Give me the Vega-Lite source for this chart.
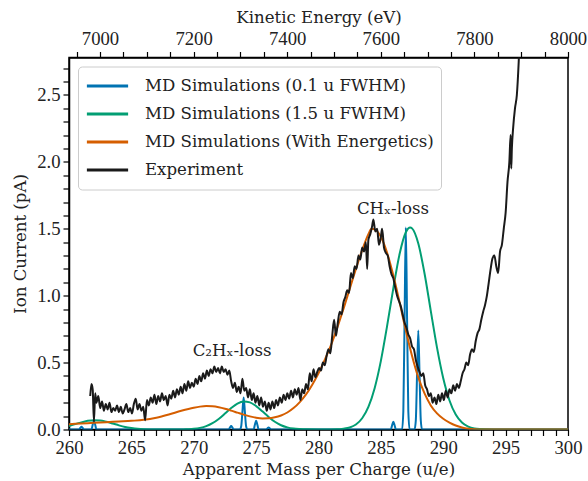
{
"$schema": "https://vega.github.io/schema/vega-lite/v6.json",
"width": 499, "height": 372,
"autosize": "none",
"padding": {"left": 69, "top": 57.5, "right": 20, "bottom": 51.5},
"config": {
  "font": "DejaVu Serif",
  "view": {"stroke": "#000", "strokeWidth": 1.5},
  "axis": {"grid": false, "domainColor": "#000", "domainWidth": 1.5, "tickColor": "#000", "tickWidth": 1.2, "tickSize": 6, "labelFont": "Liberation Serif, DejaVu Serif, serif", "labelFontSize": 18.7, "titleFont": "DejaVu Serif", "titleFontSize": 16.6, "labelColor": "#222", "titleColor": "#222", "titleFontWeight": "normal", "labelFlush": false, "labelOverlap": false, "labelPadding": 3},
  "legend": {"labelFont": "DejaVu Serif"},
  "text": {"font": "DejaVu Serif"}
},
"datasets": {
  "curves": [
    {"m":260,"v":0,"s":"MD Simulations (0.1 u FWHM)"},
    {"m":260.8,"v":0,"s":"MD Simulations (0.1 u FWHM)"},{"m":260.9,"v":0.011,"s":"MD Simulations (0.1 u FWHM)"},{"m":261,"v":0.02,"s":"MD Simulations (0.1 u FWHM)"},{"m":261.1,"v":0.011,"s":"MD Simulations (0.1 u FWHM)"},{"m":261.2,"v":0,"s":"MD Simulations (0.1 u FWHM)"},
    {"m":261.8,"v":0,"s":"MD Simulations (0.1 u FWHM)"},{"m":261.9,"v":0.036,"s":"MD Simulations (0.1 u FWHM)"},{"m":262,"v":0.065,"s":"MD Simulations (0.1 u FWHM)"},{"m":262.1,"v":0.036,"s":"MD Simulations (0.1 u FWHM)"},{"m":262.2,"v":0,"s":"MD Simulations (0.1 u FWHM)"},
    {"m":272.8,"v":0,"s":"MD Simulations (0.1 u FWHM)"},{"m":272.9,"v":0.014,"s":"MD Simulations (0.1 u FWHM)"},{"m":273,"v":0.026,"s":"MD Simulations (0.1 u FWHM)"},{"m":273.1,"v":0.014,"s":"MD Simulations (0.1 u FWHM)"},{"m":273.2,"v":0,"s":"MD Simulations (0.1 u FWHM)"},
    {"m":273.7,"v":0,"s":"MD Simulations (0.1 u FWHM)"},{"m":273.8,"v":0.022,"s":"MD Simulations (0.1 u FWHM)"},{"m":273.9,"v":0.13,"s":"MD Simulations (0.1 u FWHM)"},{"m":274,"v":0.24,"s":"MD Simulations (0.1 u FWHM)"},{"m":274.1,"v":0.13,"s":"MD Simulations (0.1 u FWHM)"},{"m":274.2,"v":0.022,"s":"MD Simulations (0.1 u FWHM)"},{"m":274.3,"v":0,"s":"MD Simulations (0.1 u FWHM)"},
    {"m":274.8,"v":0,"s":"MD Simulations (0.1 u FWHM)"},{"m":274.9,"v":0.036,"s":"MD Simulations (0.1 u FWHM)"},{"m":275,"v":0.066,"s":"MD Simulations (0.1 u FWHM)"},{"m":275.1,"v":0.036,"s":"MD Simulations (0.1 u FWHM)"},{"m":275.2,"v":0,"s":"MD Simulations (0.1 u FWHM)"},
    {"m":275.8,"v":0,"s":"MD Simulations (0.1 u FWHM)"},{"m":275.9,"v":0.008,"s":"MD Simulations (0.1 u FWHM)"},{"m":276,"v":0.015,"s":"MD Simulations (0.1 u FWHM)"},{"m":276.1,"v":0.008,"s":"MD Simulations (0.1 u FWHM)"},{"m":276.2,"v":0,"s":"MD Simulations (0.1 u FWHM)"},
    {"m":285.8,"v":0,"s":"MD Simulations (0.1 u FWHM)"},{"m":285.9,"v":0.032,"s":"MD Simulations (0.1 u FWHM)"},{"m":286,"v":0.058,"s":"MD Simulations (0.1 u FWHM)"},{"m":286.1,"v":0.032,"s":"MD Simulations (0.1 u FWHM)"},{"m":286.2,"v":0,"s":"MD Simulations (0.1 u FWHM)"},
    {"m":286.7,"v":0,"s":"MD Simulations (0.1 u FWHM)"},{"m":286.8,"v":0.136,"s":"MD Simulations (0.1 u FWHM)"},{"m":286.9,"v":0.83,"s":"MD Simulations (0.1 u FWHM)"},{"m":287,"v":1.51,"s":"MD Simulations (0.1 u FWHM)"},{"m":287.1,"v":0.83,"s":"MD Simulations (0.1 u FWHM)"},{"m":287.2,"v":0.136,"s":"MD Simulations (0.1 u FWHM)"},{"m":287.3,"v":0,"s":"MD Simulations (0.1 u FWHM)"},
    {"m":287.7,"v":0,"s":"MD Simulations (0.1 u FWHM)"},{"m":287.8,"v":0.067,"s":"MD Simulations (0.1 u FWHM)"},{"m":287.9,"v":0.41,"s":"MD Simulations (0.1 u FWHM)"},{"m":288,"v":0.74,"s":"MD Simulations (0.1 u FWHM)"},{"m":288.1,"v":0.41,"s":"MD Simulations (0.1 u FWHM)"},{"m":288.2,"v":0.067,"s":"MD Simulations (0.1 u FWHM)"},{"m":288.3,"v":0,"s":"MD Simulations (0.1 u FWHM)"},
    {"m":300,"v":0,"s":"MD Simulations (0.1 u FWHM)"},

    {"m":260,"v":0.026,"s":"MD Simulations (1.5 u FWHM)"},{"m":260.5,"v":0.04,"s":"MD Simulations (1.5 u FWHM)"},{"m":261,"v":0.053,"s":"MD Simulations (1.5 u FWHM)"},{"m":261.5,"v":0.065,"s":"MD Simulations (1.5 u FWHM)"},{"m":262,"v":0.07,"s":"MD Simulations (1.5 u FWHM)"},{"m":262.5,"v":0.068,"s":"MD Simulations (1.5 u FWHM)"},{"m":263,"v":0.058,"s":"MD Simulations (1.5 u FWHM)"},{"m":263.5,"v":0.045,"s":"MD Simulations (1.5 u FWHM)"},{"m":264,"v":0.031,"s":"MD Simulations (1.5 u FWHM)"},{"m":264.5,"v":0.019,"s":"MD Simulations (1.5 u FWHM)"},{"m":265,"v":0.011,"s":"MD Simulations (1.5 u FWHM)"},{"m":265.5,"v":0.005,"s":"MD Simulations (1.5 u FWHM)"},{"m":266,"v":0.002,"s":"MD Simulations (1.5 u FWHM)"},{"m":267,"v":0,"s":"MD Simulations (1.5 u FWHM)"},{"m":269,"v":0,"s":"MD Simulations (1.5 u FWHM)"},
    {"m":269.5,"v":0.002,"s":"MD Simulations (1.5 u FWHM)"},{"m":270,"v":0.005,"s":"MD Simulations (1.5 u FWHM)"},{"m":270.5,"v":0.012,"s":"MD Simulations (1.5 u FWHM)"},{"m":271,"v":0.025,"s":"MD Simulations (1.5 u FWHM)"},{"m":271.5,"v":0.047,"s":"MD Simulations (1.5 u FWHM)"},{"m":272,"v":0.079,"s":"MD Simulations (1.5 u FWHM)"},{"m":272.5,"v":0.119,"s":"MD Simulations (1.5 u FWHM)"},{"m":273,"v":0.16,"s":"MD Simulations (1.5 u FWHM)"},{"m":273.5,"v":0.194,"s":"MD Simulations (1.5 u FWHM)"},{"m":274,"v":0.21,"s":"MD Simulations (1.5 u FWHM)"},{"m":274.5,"v":0.203,"s":"MD Simulations (1.5 u FWHM)"},{"m":275,"v":0.175,"s":"MD Simulations (1.5 u FWHM)"},{"m":275.5,"v":0.136,"s":"MD Simulations (1.5 u FWHM)"},{"m":276,"v":0.094,"s":"MD Simulations (1.5 u FWHM)"},{"m":276.5,"v":0.058,"s":"MD Simulations (1.5 u FWHM)"},{"m":277,"v":0.032,"s":"MD Simulations (1.5 u FWHM)"},{"m":277.5,"v":0.016,"s":"MD Simulations (1.5 u FWHM)"},{"m":278,"v":0.007,"s":"MD Simulations (1.5 u FWHM)"},{"m":278.5,"v":0.003,"s":"MD Simulations (1.5 u FWHM)"},{"m":279,"v":0.001,"s":"MD Simulations (1.5 u FWHM)"},{"m":280,"v":0,"s":"MD Simulations (1.5 u FWHM)"},{"m":281,"v":0,"s":"MD Simulations (1.5 u FWHM)"},
    {"m":281.5,"v":0.001,"s":"MD Simulations (1.5 u FWHM)"},{"m":282,"v":0.006,"s":"MD Simulations (1.5 u FWHM)"},{"m":282.5,"v":0.015,"s":"MD Simulations (1.5 u FWHM)"},{"m":283,"v":0.037,"s":"MD Simulations (1.5 u FWHM)"},{"m":283.5,"v":0.084,"s":"MD Simulations (1.5 u FWHM)"},{"m":284,"v":0.169,"s":"MD Simulations (1.5 u FWHM)"},{"m":284.5,"v":0.309,"s":"MD Simulations (1.5 u FWHM)"},{"m":285,"v":0.513,"s":"MD Simulations (1.5 u FWHM)"},{"m":285.5,"v":0.774,"s":"MD Simulations (1.5 u FWHM)"},{"m":286,"v":1.057,"s":"MD Simulations (1.5 u FWHM)"},{"m":286.5,"v":1.311,"s":"MD Simulations (1.5 u FWHM)"},{"m":287,"v":1.474,"s":"MD Simulations (1.5 u FWHM)"},{"m":287.35,"v":1.51,"s":"MD Simulations (1.5 u FWHM)"},{"m":287.5,"v":1.503,"s":"MD Simulations (1.5 u FWHM)"},{"m":288,"v":1.39,"s":"MD Simulations (1.5 u FWHM)"},{"m":288.5,"v":1.166,"s":"MD Simulations (1.5 u FWHM)"},{"m":289,"v":0.887,"s":"MD Simulations (1.5 u FWHM)"},{"m":289.5,"v":0.612,"s":"MD Simulations (1.5 u FWHM)"},{"m":290,"v":0.383,"s":"MD Simulations (1.5 u FWHM)"},{"m":290.5,"v":0.217,"s":"MD Simulations (1.5 u FWHM)"},{"m":291,"v":0.112,"s":"MD Simulations (1.5 u FWHM)"},{"m":291.5,"v":0.052,"s":"MD Simulations (1.5 u FWHM)"},{"m":292,"v":0.022,"s":"MD Simulations (1.5 u FWHM)"},{"m":292.5,"v":0.008,"s":"MD Simulations (1.5 u FWHM)"},{"m":293,"v":0.003,"s":"MD Simulations (1.5 u FWHM)"},{"m":293.5,"v":0.001,"s":"MD Simulations (1.5 u FWHM)"},{"m":294,"v":0,"s":"MD Simulations (1.5 u FWHM)"},{"m":300,"v":0,"s":"MD Simulations (1.5 u FWHM)"},

    {"m":260,"v":0.04,"s":"MD Simulations (With Energetics)"},{"m":261,"v":0.045,"s":"MD Simulations (With Energetics)"},{"m":262,"v":0.05,"s":"MD Simulations (With Energetics)"},{"m":263,"v":0.055,"s":"MD Simulations (With Energetics)"},{"m":264,"v":0.06,"s":"MD Simulations (With Energetics)"},{"m":265,"v":0.065,"s":"MD Simulations (With Energetics)"},{"m":266,"v":0.072,"s":"MD Simulations (With Energetics)"},{"m":267,"v":0.088,"s":"MD Simulations (With Energetics)"},{"m":268,"v":0.112,"s":"MD Simulations (With Energetics)"},{"m":269,"v":0.14,"s":"MD Simulations (With Energetics)"},{"m":270,"v":0.163,"s":"MD Simulations (With Energetics)"},{"m":270.5,"v":0.171,"s":"MD Simulations (With Energetics)"},{"m":271,"v":0.175,"s":"MD Simulations (With Energetics)"},{"m":271.5,"v":0.173,"s":"MD Simulations (With Energetics)"},{"m":272,"v":0.166,"s":"MD Simulations (With Energetics)"},{"m":272.5,"v":0.155,"s":"MD Simulations (With Energetics)"},{"m":273,"v":0.141,"s":"MD Simulations (With Energetics)"},{"m":273.5,"v":0.126,"s":"MD Simulations (With Energetics)"},{"m":274,"v":0.111,"s":"MD Simulations (With Energetics)"},{"m":274.5,"v":0.098,"s":"MD Simulations (With Energetics)"},{"m":275,"v":0.088,"s":"MD Simulations (With Energetics)"},{"m":275.5,"v":0.083,"s":"MD Simulations (With Energetics)"},{"m":276,"v":0.084,"s":"MD Simulations (With Energetics)"},{"m":276.5,"v":0.091,"s":"MD Simulations (With Energetics)"},{"m":277,"v":0.105,"s":"MD Simulations (With Energetics)"},{"m":277.5,"v":0.127,"s":"MD Simulations (With Energetics)"},{"m":278,"v":0.16,"s":"MD Simulations (With Energetics)"},{"m":278.5,"v":0.205,"s":"MD Simulations (With Energetics)"},{"m":279,"v":0.262,"s":"MD Simulations (With Energetics)"},{"m":279.5,"v":0.335,"s":"MD Simulations (With Energetics)"},{"m":280,"v":0.42,"s":"MD Simulations (With Energetics)"},{"m":280.5,"v":0.52,"s":"MD Simulations (With Energetics)"},{"m":281,"v":0.63,"s":"MD Simulations (With Energetics)"},{"m":281.5,"v":0.76,"s":"MD Simulations (With Energetics)"},{"m":282,"v":0.9,"s":"MD Simulations (With Energetics)"},{"m":282.5,"v":1.05,"s":"MD Simulations (With Energetics)"},{"m":283,"v":1.2,"s":"MD Simulations (With Energetics)"},{"m":283.5,"v":1.34,"s":"MD Simulations (With Energetics)"},{"m":284,"v":1.46,"s":"MD Simulations (With Energetics)"},{"m":284.25,"v":1.5,"s":"MD Simulations (With Energetics)"},{"m":284.5,"v":1.495,"s":"MD Simulations (With Energetics)"},{"m":285,"v":1.44,"s":"MD Simulations (With Energetics)"},{"m":285.5,"v":1.32,"s":"MD Simulations (With Energetics)"},{"m":286,"v":1.15,"s":"MD Simulations (With Energetics)"},{"m":286.5,"v":0.95,"s":"MD Simulations (With Energetics)"},{"m":287,"v":0.74,"s":"MD Simulations (With Energetics)"},{"m":287.5,"v":0.55,"s":"MD Simulations (With Energetics)"},{"m":288,"v":0.39,"s":"MD Simulations (With Energetics)"},{"m":288.5,"v":0.27,"s":"MD Simulations (With Energetics)"},{"m":289,"v":0.18,"s":"MD Simulations (With Energetics)"},{"m":289.5,"v":0.12,"s":"MD Simulations (With Energetics)"},{"m":290,"v":0.08,"s":"MD Simulations (With Energetics)"},{"m":290.5,"v":0.052,"s":"MD Simulations (With Energetics)"},{"m":291,"v":0.03,"s":"MD Simulations (With Energetics)"},{"m":291.5,"v":0.015,"s":"MD Simulations (With Energetics)"},{"m":292,"v":0.006,"s":"MD Simulations (With Energetics)"},{"m":292.5,"v":0.002,"s":"MD Simulations (With Energetics)"},{"m":293,"v":0,"s":"MD Simulations (With Energetics)"},{"m":300,"v":0,"s":"MD Simulations (With Energetics)"},

    {"m":261.7,"v":0.25,"s":"Experiment"},{"m":261.8,"v":0.34,"s":"Experiment"},{"m":261.9,"v":0.3,"s":"Experiment"},{"m":262.0,"v":0.06,"s":"Experiment"},{"m":262.1,"v":0.27,"s":"Experiment"},{"m":262.2,"v":0.2,"s":"Experiment"},{"m":262.35,"v":0.25,"s":"Experiment"},{"m":262.5,"v":0.16,"s":"Experiment"},{"m":262.65,"v":0.21,"s":"Experiment"},{"m":262.8,"v":0.14,"s":"Experiment"},{"m":262.95,"v":0.19,"s":"Experiment"},{"m":263.1,"v":0.15,"s":"Experiment"},{"m":263.25,"v":0.2,"s":"Experiment"},{"m":263.4,"v":0.13,"s":"Experiment"},{"m":263.55,"v":0.16,"s":"Experiment"},{"m":263.7,"v":0.14,"s":"Experiment"},{"m":263.85,"v":0.18,"s":"Experiment"},{"m":264.0,"v":0.13,"s":"Experiment"},{"m":264.15,"v":0.17,"s":"Experiment"},{"m":264.3,"v":0.12,"s":"Experiment"},{"m":264.45,"v":0.15,"s":"Experiment"},{"m":264.6,"v":0.19,"s":"Experiment"},{"m":264.75,"v":0.13,"s":"Experiment"},{"m":264.9,"v":0.16,"s":"Experiment"},{"m":265.05,"v":0.12,"s":"Experiment"},{"m":265.2,"v":0.19,"s":"Experiment"},{"m":265.35,"v":0.23,"s":"Experiment"},{"m":265.5,"v":0.15,"s":"Experiment"},{"m":265.65,"v":0.19,"s":"Experiment"},{"m":265.8,"v":0.14,"s":"Experiment"},{"m":265.95,"v":0.17,"s":"Experiment"},{"m":266.1,"v":0.07,"s":"Experiment"},{"m":266.25,"v":0.22,"s":"Experiment"},{"m":266.4,"v":0.18,"s":"Experiment"},{"m":266.55,"v":0.24,"s":"Experiment"},{"m":266.7,"v":0.2,"s":"Experiment"},{"m":266.85,"v":0.26,"s":"Experiment"},{"m":267.0,"v":0.19,"s":"Experiment"},{"m":267.15,"v":0.25,"s":"Experiment"},{"m":267.3,"v":0.21,"s":"Experiment"},{"m":267.45,"v":0.27,"s":"Experiment"},{"m":267.6,"v":0.22,"s":"Experiment"},{"m":267.75,"v":0.25,"s":"Experiment"},{"m":267.9,"v":0.18,"s":"Experiment"},{"m":268.05,"v":0.26,"s":"Experiment"},{"m":268.2,"v":0.23,"s":"Experiment"},{"m":268.35,"v":0.29,"s":"Experiment"},{"m":268.5,"v":0.24,"s":"Experiment"},{"m":268.65,"v":0.3,"s":"Experiment"},{"m":268.8,"v":0.26,"s":"Experiment"},{"m":268.95,"v":0.32,"s":"Experiment"},{"m":269.1,"v":0.27,"s":"Experiment"},{"m":269.25,"v":0.34,"s":"Experiment"},{"m":269.4,"v":0.29,"s":"Experiment"},{"m":269.55,"v":0.36,"s":"Experiment"},{"m":269.7,"v":0.31,"s":"Experiment"},{"m":269.85,"v":0.35,"s":"Experiment"},{"m":270.0,"v":0.32,"s":"Experiment"},{"m":270.15,"v":0.38,"s":"Experiment"},{"m":270.3,"v":0.34,"s":"Experiment"},{"m":270.45,"v":0.4,"s":"Experiment"},{"m":270.6,"v":0.36,"s":"Experiment"},{"m":270.75,"v":0.42,"s":"Experiment"},{"m":270.9,"v":0.38,"s":"Experiment"},{"m":271.05,"v":0.44,"s":"Experiment"},{"m":271.2,"v":0.4,"s":"Experiment"},{"m":271.35,"v":0.45,"s":"Experiment"},{"m":271.5,"v":0.42,"s":"Experiment"},{"m":271.65,"v":0.47,"s":"Experiment"},{"m":271.8,"v":0.43,"s":"Experiment"},{"m":271.95,"v":0.46,"s":"Experiment"},{"m":272.1,"v":0.42,"s":"Experiment"},{"m":272.25,"v":0.47,"s":"Experiment"},{"m":272.4,"v":0.43,"s":"Experiment"},{"m":272.55,"v":0.45,"s":"Experiment"},{"m":272.7,"v":0.41,"s":"Experiment"},{"m":272.85,"v":0.44,"s":"Experiment"},{"m":273.0,"v":0.36,"s":"Experiment"},{"m":273.15,"v":0.31,"s":"Experiment"},{"m":273.3,"v":0.35,"s":"Experiment"},{"m":273.45,"v":0.28,"s":"Experiment"},{"m":273.6,"v":0.32,"s":"Experiment"},{"m":273.75,"v":0.27,"s":"Experiment"},{"m":273.9,"v":0.38,"s":"Experiment"},{"m":274.05,"v":0.29,"s":"Experiment"},{"m":274.2,"v":0.31,"s":"Experiment"},{"m":274.35,"v":0.24,"s":"Experiment"},{"m":274.5,"v":0.3,"s":"Experiment"},{"m":274.65,"v":0.22,"s":"Experiment"},{"m":274.8,"v":0.27,"s":"Experiment"},{"m":274.95,"v":0.2,"s":"Experiment"},{"m":275.1,"v":0.25,"s":"Experiment"},{"m":275.25,"v":0.18,"s":"Experiment"},{"m":275.4,"v":0.24,"s":"Experiment"},{"m":275.55,"v":0.17,"s":"Experiment"},{"m":275.7,"v":0.21,"s":"Experiment"},{"m":275.85,"v":0.14,"s":"Experiment"},{"m":276.0,"v":0.2,"s":"Experiment"},{"m":276.15,"v":0.15,"s":"Experiment"},{"m":276.3,"v":0.21,"s":"Experiment"},{"m":276.45,"v":0.16,"s":"Experiment"},{"m":276.6,"v":0.22,"s":"Experiment"},{"m":276.75,"v":0.18,"s":"Experiment"},{"m":276.9,"v":0.24,"s":"Experiment"},{"m":277.05,"v":0.2,"s":"Experiment"},{"m":277.2,"v":0.26,"s":"Experiment"},{"m":277.35,"v":0.22,"s":"Experiment"},{"m":277.5,"v":0.27,"s":"Experiment"},{"m":277.65,"v":0.23,"s":"Experiment"},{"m":277.8,"v":0.29,"s":"Experiment"},{"m":277.95,"v":0.24,"s":"Experiment"},{"m":278.1,"v":0.3,"s":"Experiment"},{"m":278.25,"v":0.26,"s":"Experiment"},{"m":278.4,"v":0.31,"s":"Experiment"},{"m":278.55,"v":0.22,"s":"Experiment"},{"m":278.7,"v":0.3,"s":"Experiment"},{"m":278.85,"v":0.27,"s":"Experiment"},{"m":279.0,"v":0.34,"s":"Experiment"},{"m":279.15,"v":0.3,"s":"Experiment"},{"m":279.3,"v":0.42,"s":"Experiment"},{"m":279.45,"v":0.36,"s":"Experiment"},{"m":279.6,"v":0.45,"s":"Experiment"},{"m":279.75,"v":0.39,"s":"Experiment"},{"m":279.9,"v":0.43,"s":"Experiment"},{"m":280.05,"v":0.46,"s":"Experiment"},{"m":280.2,"v":0.44,"s":"Experiment"},{"m":280.35,"v":0.5,"s":"Experiment"},{"m":280.5,"v":0.48,"s":"Experiment"},{"m":280.65,"v":0.55,"s":"Experiment"},{"m":280.8,"v":0.6,"s":"Experiment"},{"m":280.95,"v":0.57,"s":"Experiment"},{"m":281.1,"v":0.7,"s":"Experiment"},{"m":281.25,"v":0.82,"s":"Experiment"},{"m":281.4,"v":0.7,"s":"Experiment"},{"m":281.55,"v":0.8,"s":"Experiment"},{"m":281.7,"v":0.88,"s":"Experiment"},{"m":281.85,"v":0.86,"s":"Experiment"},{"m":282.0,"v":0.95,"s":"Experiment"},{"m":282.15,"v":0.99,"s":"Experiment"},{"m":282.3,"v":1.04,"s":"Experiment"},{"m":282.45,"v":1.02,"s":"Experiment"},{"m":282.6,"v":1.17,"s":"Experiment"},{"m":282.75,"v":1.13,"s":"Experiment"},{"m":282.9,"v":1.22,"s":"Experiment"},{"m":283.05,"v":1.2,"s":"Experiment"},{"m":283.2,"v":1.3,"s":"Experiment"},{"m":283.35,"v":1.27,"s":"Experiment"},{"m":283.5,"v":1.36,"s":"Experiment"},{"m":283.65,"v":1.33,"s":"Experiment"},{"m":283.8,"v":1.4,"s":"Experiment"},{"m":283.9,"v":1.2,"s":"Experiment"},{"m":284.0,"v":1.42,"s":"Experiment"},{"m":284.15,"v":1.46,"s":"Experiment"},{"m":284.3,"v":1.52,"s":"Experiment"},{"m":284.4,"v":1.57,"s":"Experiment"},{"m":284.55,"v":1.48,"s":"Experiment"},{"m":284.7,"v":1.5,"s":"Experiment"},{"m":284.85,"v":1.38,"s":"Experiment"},{"m":285.0,"v":1.44,"s":"Experiment"},{"m":285.1,"v":1.5,"s":"Experiment"},{"m":285.25,"v":1.36,"s":"Experiment"},{"m":285.4,"v":1.32,"s":"Experiment"},{"m":285.55,"v":1.3,"s":"Experiment"},{"m":285.7,"v":1.22,"s":"Experiment"},{"m":285.85,"v":1.16,"s":"Experiment"},{"m":286.0,"v":1.13,"s":"Experiment"},{"m":286.15,"v":1.06,"s":"Experiment"},{"m":286.3,"v":1.0,"s":"Experiment"},{"m":286.45,"v":0.96,"s":"Experiment"},{"m":286.6,"v":0.92,"s":"Experiment"},{"m":286.75,"v":0.86,"s":"Experiment"},{"m":286.9,"v":0.8,"s":"Experiment"},{"m":287.05,"v":0.76,"s":"Experiment"},{"m":287.2,"v":0.71,"s":"Experiment"},{"m":287.35,"v":0.68,"s":"Experiment"},{"m":287.5,"v":0.62,"s":"Experiment"},{"m":287.65,"v":0.6,"s":"Experiment"},{"m":287.8,"v":0.52,"s":"Experiment"},{"m":287.95,"v":0.47,"s":"Experiment"},{"m":288.1,"v":0.43,"s":"Experiment"},{"m":288.25,"v":0.4,"s":"Experiment"},{"m":288.4,"v":0.42,"s":"Experiment"},{"m":288.55,"v":0.33,"s":"Experiment"},{"m":288.7,"v":0.3,"s":"Experiment"},{"m":288.85,"v":0.25,"s":"Experiment"},{"m":289.0,"v":0.27,"s":"Experiment"},{"m":289.15,"v":0.2,"s":"Experiment"},{"m":289.3,"v":0.24,"s":"Experiment"},{"m":289.45,"v":0.19,"s":"Experiment"},{"m":289.6,"v":0.26,"s":"Experiment"},{"m":289.75,"v":0.21,"s":"Experiment"},{"m":289.9,"v":0.27,"s":"Experiment"},{"m":290.05,"v":0.22,"s":"Experiment"},{"m":290.2,"v":0.29,"s":"Experiment"},{"m":290.35,"v":0.24,"s":"Experiment"},{"m":290.5,"v":0.3,"s":"Experiment"},{"m":290.65,"v":0.27,"s":"Experiment"},{"m":290.8,"v":0.33,"s":"Experiment"},{"m":290.95,"v":0.29,"s":"Experiment"},{"m":291.1,"v":0.34,"s":"Experiment"},{"m":291.25,"v":0.31,"s":"Experiment"},{"m":291.4,"v":0.36,"s":"Experiment"},{"m":291.55,"v":0.42,"s":"Experiment"},{"m":291.7,"v":0.45,"s":"Experiment"},{"m":291.85,"v":0.5,"s":"Experiment"},{"m":292.0,"v":0.48,"s":"Experiment"},{"m":292.15,"v":0.56,"s":"Experiment"},{"m":292.3,"v":0.6,"s":"Experiment"},{"m":292.45,"v":0.58,"s":"Experiment"},{"m":292.6,"v":0.66,"s":"Experiment"},{"m":292.75,"v":0.72,"s":"Experiment"},{"m":292.9,"v":0.75,"s":"Experiment"},{"m":293.05,"v":0.82,"s":"Experiment"},{"m":293.2,"v":0.88,"s":"Experiment"},{"m":293.35,"v":0.93,"s":"Experiment"},{"m":293.5,"v":1.0,"s":"Experiment"},{"m":293.65,"v":1.1,"s":"Experiment"},{"m":293.8,"v":1.2,"s":"Experiment"},{"m":293.95,"v":1.28,"s":"Experiment"},{"m":294.1,"v":1.3,"s":"Experiment"},{"m":294.25,"v":1.22,"s":"Experiment"},{"m":294.4,"v":1.17,"s":"Experiment"},{"m":294.55,"v":1.33,"s":"Experiment"},{"m":294.7,"v":1.38,"s":"Experiment"},{"m":294.85,"v":1.5,"s":"Experiment"},{"m":295.0,"v":1.62,"s":"Experiment"},{"m":295.15,"v":1.85,"s":"Experiment"},{"m":295.3,"v":2.0,"s":"Experiment"},{"m":295.4,"v":2.2,"s":"Experiment"},{"m":295.45,"v":1.95,"s":"Experiment"},{"m":295.5,"v":2.1,"s":"Experiment"},{"m":295.6,"v":2.25,"s":"Experiment"},{"m":295.75,"v":2.4,"s":"Experiment"},{"m":295.9,"v":2.5,"s":"Experiment"},{"m":296.05,"v":2.75,"s":"Experiment"},{"m":296.2,"v":3.1,"s":"Experiment"}
  ],
  "ann": [
    {"m": 273.07, "v": 0.59, "t": "C₂Hₓ-loss"},
    {"m": 285.97, "v": 1.65, "t": "CHₓ-loss"}
  ],
  "ke": [{"e": 6933.8}, {"e": 8000}]
},
"layer": [
  {
    "layer": [
      {
        "data": {"name": "curves"},
        "mark": {"type": "line", "strokeWidth": 2, "interpolate": "monotone", "clip": true},
        "encoding": {
          "x": {"field": "m", "type": "quantitative", "scale": {"domain": [260, 300], "nice": false, "zero": false},
            "axis": {"orient": "bottom", "title": "Apparent Mass per Charge (u/e)", "titlePadding": 4, "labelOverlap": false, "tickCount": 200, "format": "d",
              "values": [260,261,262,263,264,265,266,267,268,269,270,271,272,273,274,275,276,277,278,279,280,281,282,283,284,285,286,287,288,289,290,291,292,293,294,295,296,297,298,299,300],
              "labelExpr": "datum.value % 5 === 0 ? datum.label : ''",
              "encoding": {"ticks": {"update": {"y2": {"signal": "datum.value % 5 === 0 ? 6 : 3.5"}}}}}},
          "y": {"field": "v", "type": "quantitative", "scale": {"domain": [0, 2.78], "nice": false},
            "axis": {"title": "Ion Current (pA)", "titlePadding": 8, "labelOverlap": false, "tickCount": 200,
              "values": [0,0.1,0.2,0.3,0.4,0.5,0.6,0.7,0.8,0.9,1,1.1,1.2,1.3,1.4,1.5,1.6,1.7,1.8,1.9,2,2.1,2.2,2.3,2.4,2.5,2.6,2.7],
              "labelExpr": "abs(datum.value*2 - round(datum.value*2)) < 0.001 ? format(datum.value, '.1f') : ''",
              "encoding": {"ticks": {"update": {"x2": {"signal": "abs(datum.value*2 - round(datum.value*2)) < 0.001 ? -6 : -3.5"}}}}}},
          "color": {"field": "s", "type": "nominal",
            "scale": {"domain": ["MD Simulations (0.1 u FWHM)", "MD Simulations (1.5 u FWHM)", "MD Simulations (With Energetics)", "Experiment"],
                      "range": ["#0173B2", "#029E73", "#D55E00", "#1a1a1a"]},
            "legend": {"title": null, "orient": "top-left", "offset": 9, "padding": 7, "symbolType": "stroke", "symbolSize": 1700, "symbolStrokeWidth": 3, "labelFont": "DejaVu Serif", "labelFontSize": 16.6, "labelColor": "#222", "labelOffset": 15, "labelLimit": 400, "rowPadding": 3, "clipHeight": 25, "strokeColor": "#cccccc", "fillColor": "rgba(255,255,255,0.8)", "cornerRadius": 4}}
        }
      },
      {
        "data": {"name": "ann"},
        "mark": {"type": "text", "font": "DejaVu Serif", "fontSize": 16.6, "color": "#222", "align": "center", "baseline": "middle"},
        "encoding": {
          "x": {"field": "m", "type": "quantitative"},
          "y": {"field": "v", "type": "quantitative"},
          "text": {"field": "t"}
        }
      }
    ]
  },
  {
    "data": {"name": "ke"},
    "mark": {"type": "point", "opacity": 0},
    "encoding": {
      "x": {"field": "e", "type": "quantitative", "scale": {"domain": [6933.8, 8000], "nice": false, "zero": false},
        "axis": {"orient": "top", "title": "Kinetic Energy (eV)", "titlePadding": 4, "labelOverlap": false, "tickCount": 200,
          "values": [6950,7000,7050,7100,7150,7200,7250,7300,7350,7400,7450,7500,7550,7600,7650,7700,7750,7800,7850,7900,7950,8000],
          "labelExpr": "datum.value % 200 === 0 ? datum.label : ''",
          "format": "d",
          "encoding": {"ticks": {"update": {"y2": {"signal": "datum.value % 200 === 0 ? -6 : -3.5"}}}}}}
    }
  }
],
"resolve": {"scale": {"x": "independent"}, "axis": {"x": "independent"}}
}
